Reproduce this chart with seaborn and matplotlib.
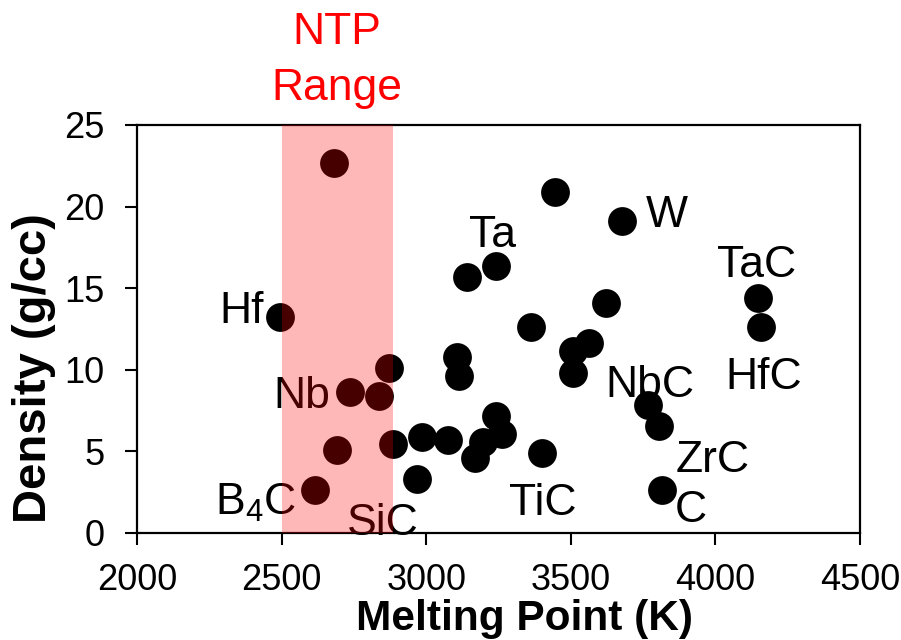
import matplotlib
matplotlib.use("Agg")
import matplotlib.pyplot as plt
import matplotlib.transforms as mtransforms
import seaborn as sns
import pandas as pd

# Melting point (K) and density (g/cc) of candidate high-temperature materials
melting_point = [2682, 2494, 2872, 2736, 2838, 2690, 2884, 2616,
                 2967, 2984, 3077, 3105, 3113, 3142, 3241, 3241,
                 3261, 3197, 3168, 3362, 3399, 3445, 3509, 3564,
                 3509, 3621, 3676, 3768, 3806, 3814, 4148, 4156]
density = [22.7, 13.25, 10.13, 8.66, 8.39, 5.09, 5.43, 2.63,
           3.29, 5.9, 5.7, 10.8, 9.64, 15.7, 16.36, 7.17,
           6.07, 5.6, 4.58, 12.6, 4.92, 20.9, 11.17, 11.62,
           9.78, 14.07, 19.1, 7.84, 6.56, 2.63, 14.42, 12.6]

# Material labels and where they sit (data coordinates, text baseline)
label_text = ["Hf", "Nb", "B$_4$C", "SiC", "Ta", "W", "TaC", "HfC",
              "NbC", "ZrC", "C", "TiC"]
label_x = [2363, 2571, 2411, 2851, 3229, 3833, 4141, 4168,
           3773, 3992, 3916, 3404]
label_y = [12.89, 7.68, 1.10, -0.12, 17.54, 18.75, 15.70, 8.82,
           8.35, 3.76, 0.69, 1.10]

# Nuclear thermal propulsion operating range (K)
ntp_range = [2500, 2885]

x_ticks = [2000, 2500, 3000, 3500, 4000, 4500]
y_ticks = [0, 5, 10, 15, 20, 25]

sns.set_style("white")
plt.rcParams["font.family"] = ["Liberation Sans", "DejaVu Sans"]
plt.rcParams["mathtext.fontset"] = "custom"
plt.rcParams["mathtext.rm"] = "Liberation Sans"
plt.rcParams["mathtext.it"] = "Liberation Sans:italic"
plt.rcParams["mathtext.bf"] = "Liberation Sans:bold"

df = pd.DataFrame({"Melting Point (K)": melting_point, "Density (g/cc)": density})

fig = plt.figure(figsize=(9.01, 6.40), dpi=100)
ax = fig.add_axes([137 / 901, 1 - 533 / 640, (860 - 137) / 901, (533 - 125) / 640])

sns.scatterplot(data=df, x="Melting Point (K)", y="Density (g/cc)", ax=ax,
                color="black", s=430, linewidth=0, zorder=3, clip_on=False)

for t, lx, ly in zip(label_text, label_x, label_y):
    ax.text(lx, ly, t, ha="center", va="baseline", fontsize=32,
            color="black", zorder=4)

ax.axvspan(ntp_range[0], ntp_range[1], color="#ff0000", alpha=0.28,
           linewidth=0, zorder=5)

band_mid = sum(ntp_range) / 2
trans = mtransforms.blended_transform_factory(ax.transData, ax.transAxes)
ax.text(band_mid, 1.1985, "NTP", transform=trans, ha="center",
        va="baseline", fontsize=32, color="#ff0000", clip_on=False)
ax.text(band_mid, 1.0613, "Range", transform=trans, ha="center",
        va="baseline", fontsize=32, color="#ff0000", clip_on=False)

ax.set_xlim(2000, 4500)
ax.set_ylim(0, 25)
ax.set_xticks(x_ticks)
ax.set_yticks(y_ticks)
ax.tick_params(axis="both", direction="out", length=8.5, width=1.5,
               labelsize=26, color="black", labelcolor="black",
               bottom=True, left=True, top=False, right=False)
ax.tick_params(axis="x", pad=13)
ax.tick_params(axis="y", pad=15)
for side in ["left", "right", "top", "bottom"]:
    ax.spines[side].set_visible(True)
    ax.spines[side].set_color("black")
    ax.spines[side].set_linewidth(1.6)

ax.set_xlabel("Melting Point (K)", fontsize=30.5, fontweight="bold",
              color="black")
ax.set_ylabel("Density (g/cc)", fontsize=34, fontweight="bold",
              color="black")
ax.xaxis.set_label_coords(0.536, -0.2377)
ax.xaxis.label.set_va("baseline")
ax.yaxis.set_label_coords(-0.143, 0.404)
ax.yaxis.label.set_va("center")

fig.savefig("out.png", dpi=100)
